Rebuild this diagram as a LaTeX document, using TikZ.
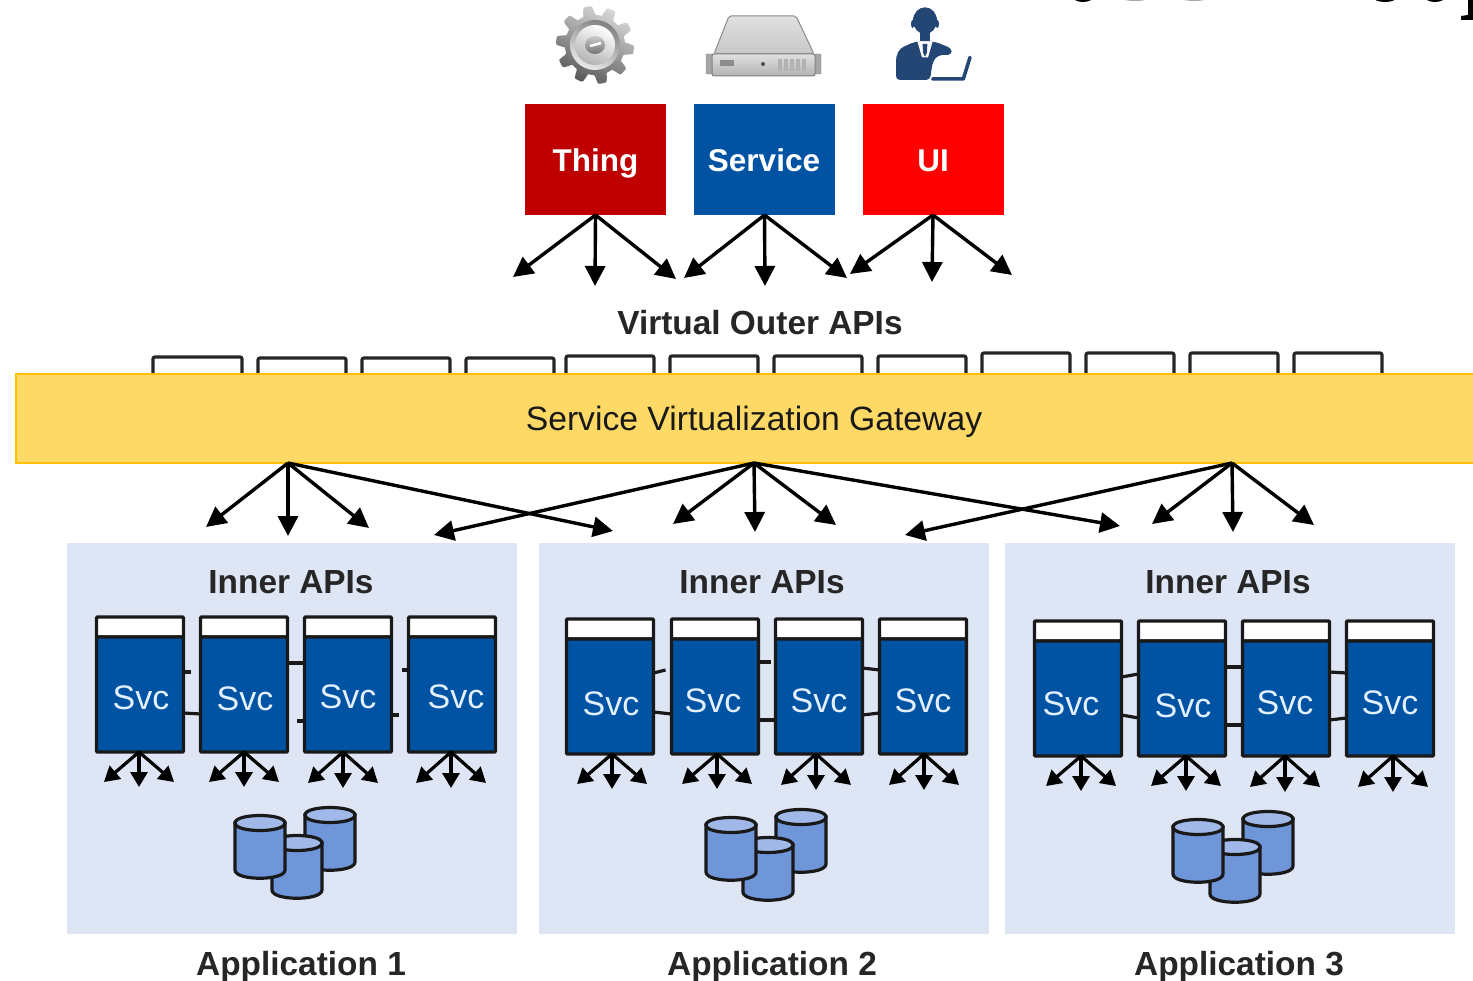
\documentclass[tikz,border=0pt]{standalone}
\usepackage{fontspec}
\setmainfont{Liberation Sans}
\usetikzlibrary{arrows.meta}
\definecolor{thingred}{HTML}{BE0000}
\definecolor{svcblue}{HTML}{0052A3}
\definecolor{uired}{HTML}{FF0000}
\definecolor{gwfill}{HTML}{FFD966}
\definecolor{gwedge}{HTML}{FFC000}
\definecolor{panelblue}{HTML}{DEE6F5}
\definecolor{dbfill}{HTML}{6F96D8}
\definecolor{dbtop}{HTML}{A0B9E8}
\definecolor{svctextc}{HTML}{E2F0FF}
\definecolor{persona}{HTML}{234675}
\tikzset{
  x=1pt,y=-1pt,
  lbl/.style={anchor=base,inner sep=0pt,font=\fontsize{33.4}{36}\selectfont\bfseries,text=black!85},
  toplbl/.style={anchor=base,inner sep=0pt,text=white,font=\fontsize{31.5}{34}\selectfont\bfseries},
  topbox/.style={minimum width=141pt,minimum height=111pt,inner sep=0pt,outer sep=0pt},
  panel/.style={fill=panelblue,minimum width=450pt,minimum height=391pt,inner sep=0pt,outer sep=0pt,anchor=north west},
  svchead/.style={draw=black!90,line width=3.4pt,fill=white,minimum width=87pt,minimum height=20pt,inner sep=0pt,outer sep=0pt,rounded corners=1pt},
  svcbody/.style={draw=black!90,line width=3.4pt,fill=svcblue,minimum width=87pt,minimum height=115pt,inner sep=0pt,outer sep=0pt,rounded corners=1pt},
  svctext/.style={anchor=base,inner sep=0pt,text=svctextc,font=\fontsize{34}{36}\selectfont},
  link/.style={draw=black!90,line width=3.2pt},
  bigarr/.style={draw=black,line width=3.4pt,-{Triangle[length=20pt,width=20pt]}},
  smallarr/.style={draw=black,line width=3.2pt,-{Triangle[length=15pt,width=17pt]}},
  apitab/.style={draw=black!85,line width=3.2pt,rounded corners=2pt},
  dbbody/.style={draw=black!90,line width=3.2pt,fill=dbfill},
  dbcap/.style={draw=black!90,line width=3.2pt,fill=dbtop},
}
\newcommand{\mysvc}[5]{%
  \node[svchead,anchor=north west] (#1h) at (#2+.5,#3) {};
  \node[svcbody,anchor=north west] (#1) at (#2+.5,#3+20) {};
  \node[svctext] (#1t) at (#4,#5) {Svc};}
\newcommand{\myfan}[3]{%
  \coordinate (#1a) at (#2-35,#3+30);
  \coordinate (#1b) at (#2,#3+35);
  \coordinate (#1c) at (#2+35,#3+30);
  \draw[smallarr] (#1.south -| #2,0) -- (#1a);
  \draw[smallarr] (#1.south -| #2,0) -- (#1b);
  \draw[smallarr] (#1.south -| #2,0) -- (#1c);}
\newcommand{\mycyl}[2]{%
  \draw[dbbody] (#1,#2+8) -- (#1,#2+55) .. controls (#1,#2+66) and (#1+50,#2+66) .. (#1+50,#2+55) -- (#1+50,#2+8) -- cycle;
  \draw[dbcap] (#1,#2+8) .. controls (#1,#2-2) and (#1+50,#2-2) .. (#1+50,#2+8) .. controls (#1+50,#2+18) and (#1,#2+18) .. (#1,#2+8) -- cycle;}
\begin{document}
\begin{tikzpicture}
\useasboundingbox (0,0) rectangle (1473,981);
\fill[white] (0,0) rectangle (1473,981);

% cropped text at the top right edge
\fill[black] (1083,-3) ellipse (10 and 5);
\fill[black!35] (1135,-4) ellipse (17 and 5);
\fill[black!35] (1194,-4) ellipse (17 and 5);
\fill[black] (1385,-3) ellipse (12 and 5);
\fill[black] (1435,-3) ellipse (10 and 5);
\fill[black] (1468,0) -- (1473,0) -- (1473,20) -- (1461,20) -- (1461,16) -- (1468,15) -- cycle;

% gear icon
\begin{scope}[shift={(595,45)}]
  \shade[top color=black!15,bottom color=black!65,shading angle=-25]
    plot[samples=161,domain=0:360] (\x:{34.5+4.5*max(-1,min(1,2.2*sin(10*\x+20)))}) -- cycle;
  \shade[top color=black!50,bottom color=black!8,shading angle=-25] (0,0) circle (25);
  \shade[top color=white,bottom color=black!30,shading angle=-25] (0,0) circle (20);
  \shade[top color=black!20,bottom color=black!55] (0,0) ellipse (10 and 9);
  \draw[white,line width=2.5pt] (-5,1) -- (6,-2);
\end{scope}

% server icon
\shade[top color=black!12,bottom color=black!22,draw=black!45,line width=1pt,rounded corners=2pt]
  (729,16) -- (796,16) -- (814,54) -- (714,54) -- cycle;
\fill[black!35,draw=black!45,rounded corners=1pt] (706,54) rectangle (714,74);
\fill[black!35,draw=black!45,rounded corners=1pt] (813,54) rectangle (821,74);
\shade[top color=black!12,bottom color=black!30,draw=black!50,line width=1pt,rounded corners=2pt]
  (712,54) rectangle (815,76);
\fill[black!45] (720,60) rectangle (734,66);
\fill[black!70] (763,64) circle (2);
\foreach \sx in {778,784,790,796,802}{\fill[black!30] (\sx,59) rectangle (\sx+4,71);}

% person icon
\begin{scope}[shift={(880,0)},x=0.3333pt,y=-0.3333pt]
  \fill[persona,rounded corners=4pt] (48,240) -- (48,170) -- (60,145) -- (105,125) -- (165,125) -- (215,145) -- (215,165) -- (175,165) -- (158,185) -- (150,240) -- cycle;
  \fill[white] (112,124) -- (158,124) -- (144,172) -- (126,172) -- cycle;
  \fill[persona] (128,132) -- (142,132) -- (141,158) -- (135,170) -- (129,158) -- cycle;
  \fill[persona] (120,90) rectangle (150,124);
  \fill[persona] (135,62) ellipse (36 and 40);
  \fill[persona] (98,72) ellipse (5 and 12);
  \fill[persona] (172,72) ellipse (5 and 12);
  \draw[persona,line width=3.5pt,line cap=round,line join=round] (158,237) -- (250,237) -- (270,172);
\end{scope}

% top boxes
\node[topbox,fill=thingred] (thing) at (595.5,159.5) {};
\node[topbox,fill=svcblue] (service) at (764.5,159.5) {};
\node[topbox,fill=uired] (ui) at (933,159.5) {};
\node[toplbl] (thingt) at (595.5,172) {Thing};
\node[toplbl] (servicet) at (764,172) {Service};
\node[toplbl] (uit) at (933,172) {UI};

% arrows out of the top boxes
\coordinate (t1) at (513,277); \coordinate (t2) at (595,286); \coordinate (t3) at (676,279);
\coordinate (s1) at (684,278); \coordinate (s2) at (765,286); \coordinate (s3) at (847,278);
\coordinate (u1) at (850,274); \coordinate (u2) at (932,282); \coordinate (u3) at (1012,275);
\foreach \e in {t1,t2,t3}{\draw[bigarr] (thing.south) -- (\e);}
\foreach \e in {s1,s2,s3}{\draw[bigarr] (service.south) -- (\e);}
\foreach \e in {u1,u2,u3}{\draw[bigarr] (ui.south) -- (\e);}

\node[lbl] (outer) at (760,335) {Virtual Outer APIs};

% outer API tabs
\foreach \xa/\xb/\yt in {153/242/357,258/346/358,362/450/358,466/554/358,566/654/356,670/758/356,774/862/356,878/966/356,982/1070/353,1086/1174/353,1190/1278/353,1294/1382/353}{
  \draw[apitab] (\xa,375) -- (\xa,\yt) -- (\xb,\yt) -- (\xb,375);
}

% gateway
\node[fill=gwfill,draw=gwedge,line width=2.6pt,minimum width=1470pt,minimum height=89pt,inner sep=0pt,outer sep=0pt,anchor=north west] (gw) at (16,374) {};
\node[anchor=base,inner sep=0pt,font=\fontsize{33.7}{36}\selectfont,text=black!90] (gwt) at (754,431) {Service Virtualization Gateway};

% application panels
\node[panel] (p1) at (67,543) {};
\node[panel] (p2) at (539,543) {};
\node[panel] (p3) at (1005,543) {};

% arrows out of the gateway
\coordinate (ga) at (gw.south -| 288,0);
\coordinate (gb) at (gw.south -| 754,0);
\coordinate (gc) at (gw.south -| 1232,0);
\coordinate (a1) at (206,527); \coordinate (a2) at (288,536); \coordinate (a3) at (369,528); \coordinate (a4) at (613,531);
\coordinate (b0) at (434,535); \coordinate (b1) at (673,524); \coordinate (b2) at (755,532); \coordinate (b3) at (836,525); \coordinate (b4) at (1120,526);
\coordinate (c0) at (905,535); \coordinate (c1) at (1152,524); \coordinate (c2) at (1233,532); \coordinate (c3) at (1314,525);
\foreach \e in {a1,a2,a3,a4}{\draw[bigarr] (ga) -- (\e);}
\foreach \e in {b0,b1,b2,b3,b4}{\draw[bigarr] (gb) -- (\e);}
\foreach \e in {c0,c1,c2,c3}{\draw[bigarr] (gc) -- (\e);}

% labels
\node[lbl] (in1) at (291,593) {Inner APIs};
\node[lbl] (in2) at (762,593) {Inner APIs};
\node[lbl] (in3) at (1228,593) {Inner APIs};
\node[lbl] (ap1) at (301,975) {Application 1};
\node[lbl] (ap2) at (772,975) {Application 2};
\node[lbl] (ap3) at (1239,975) {Application 3};

% application 1
\mysvc{sa}{96}{617}{141}{709}
\mysvc{sb}{200}{617}{245}{710}
\mysvc{sc}{304}{617}{348}{708}
\mysvc{sd}{408}{617}{456}{708}
\draw[link] (sa.east |- 0,672) -- ++(7,0);
\draw[link] (sa.east |- 0,713) -- (sb.west |- 0,714);
\draw[link] (sb.east |- 0,663) -- (sc.west |- 0,663);
\draw[link] (sc.west |- 0,721) -- ++(-8,0);
\draw[link] (sc.east |- 0,715) -- ++(7,0);
\draw[link] (sd.west |- 0,670) -- ++(-7,0);
\myfan{sa}{139}{752}
\myfan{sb}{244}{752}
\myfan{sc}{343}{753}
\myfan{sd}{451}{753}
\mycyl{305}{807}
\mycyl{272}{835}
\mycyl{235}{815}

% application 2
\mysvc{ta}{566}{619}{611}{715}
\mysvc{tb}{671}{619}{713}{712}
\mysvc{tc}{775}{619}{819}{712}
\mysvc{td}{879}{619}{923}{712}
\draw[link] (ta.east |- 0,673) -- ++(12,-3);
\draw[link] (ta.east |- 0,712) -- (tb.west |- 0,714);
\draw[link] (tb.east |- 0,662) -- ++(12,0);
\draw[link] (tb.east |- 0,720) -- (tc.west |- 0,720);
\draw[link] (tc.east |- 0,668) -- (td.west |- 0,670);
\draw[link] (tc.east |- 0,715) -- (td.west |- 0,713);
\myfan{ta}{612}{754}
\myfan{tb}{717}{754}
\myfan{tc}{816}{755}
\myfan{td}{924}{755}
\mycyl{776}{809}
\mycyl{743}{837}
\mycyl{706}{817}

% application 3
\mysvc{ua}{1034}{621}{1071}{715}
\mysvc{ub}{1138}{621}{1183}{717}
\mysvc{uc}{1242}{621}{1285}{714}
\mysvc{ud}{1346}{621}{1390}{714}
\draw[link] (ua.east |- 0,677) -- (ub.west |- 0,674);
\draw[link] (ua.east |- 0,715) -- (ub.west |- 0,718);
\draw[link] (ub.east |- 0,667) -- (uc.west |- 0,667);
\draw[link] (ub.east |- 0,725) -- (uc.west |- 0,725);
\draw[link] (uc.east |- 0,672) -- (ud.west |- 0,673);
\draw[link] (uc.east |- 0,720) -- (ud.west |- 0,718);
\myfan{ua}{1081}{756}
\myfan{ub}{1186}{756}
\myfan{uc}{1285}{757}
\myfan{ud}{1393}{757}
\mycyl{1243}{811}
\mycyl{1210}{839}
\mycyl{1173}{819}
\end{tikzpicture}
\end{document}
